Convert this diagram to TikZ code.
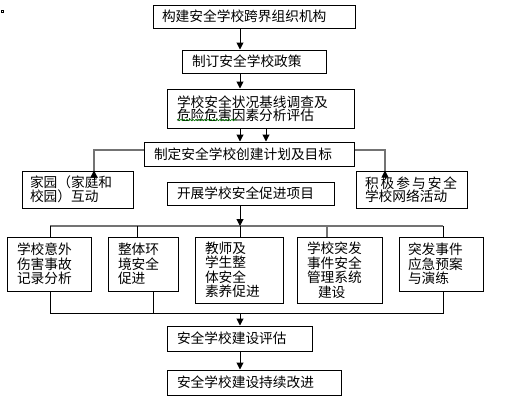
\documentclass[tikz,border=0pt]{standalone}
\usepackage{fontspec}
\setmainfont{Noto Sans CJK SC}
\usetikzlibrary{arrows.meta,decorations.pathmorphing}
\begin{document}
\begin{tikzpicture}[x=1pt,y=-1pt,
  box/.style={draw, line width=1pt, rectangle, align=left, inner ysep=0pt,
    font=\fontsize{13.7pt}{14.5pt}\selectfont},
  conn/.style={line width=1pt},
  arr/.style={line width=1pt,-{Triangle[width=7pt,length=7pt]}},
  grayconn/.style={line width=1.2pt, draw=black!55}]
\useasboundingbox[fill=white] (0,0) rectangle (506,410);
\draw[line width=0.8pt] (1.5,10.5) rectangle (3.5,12.5);
% top chain
\node[box, minimum height=23pt, inner xsep=9pt, text width=184pt] (n1) at (254,16.5) {构建安全学校跨界组织机构};
\node[box, minimum height=23pt, inner xsep=10pt, text width=124pt] (n2) at (254,61.5) {制订安全学校政策};
\node[box, minimum height=39pt, inner xsep=10pt, text width=167pt,
  font=\fontsize{13.7pt}{13pt}\selectfont] (n3) at (260.5,108.5) {学校安全状况基线调查及\\危险危害因素分析评估};
\node[box, minimum height=24pt, inner xsep=10pt, text width=190pt] (n4) at (249,154) {制定安全学校创建计划及目标};
\node[box, minimum height=37pt, inner xsep=8pt, text width=95pt,
  font=\fontsize{13.7pt}{12pt}\selectfont] (n5) at (77.5,189.5) {家园（家庭和\\校园）互动};
\node[box, minimum height=23pt, inner xsep=10pt, text width=147pt] (n6) at (250.5,193.5) {开展学校安全促进项目};
\node[box, minimum height=37pt, inner xsep=9pt, text width=93pt,
  font=\fontsize{13.7pt}{13pt}\selectfont] (n7) at (411.5,189.5) {积\kern2pt 极\kern2pt 参\kern2pt 与\kern2pt 安\kern2pt 全\\学校网络活动};
% project row
\node[box, minimum height=54pt, inner xsep=10pt, text width=64pt] (b1) at (49,264) {学校意外\\伤害事故\\记录分析};
\node[box, minimum height=54pt, inner xsep=10pt, text width=50pt] (b2) at (143,264) {整体环\\境安全\\促进};
\node[box, minimum height=66pt, inner xsep=10pt, text width=68pt] (b3) at (239,270) {教师及\\学生整\\体安全\\素养促进};
\node[box, minimum height=66pt, inner xsep=10pt, text width=65pt] (b4) at (339.5,270) {学校突发\\事件安全\\管理系统\\\hspace*{11pt}建设};
\node[box, minimum height=54pt, inner xsep=9pt, text width=66pt] (b5) at (441,264) {突发事件\\应急预案\\与演练};
% bottom chain
\node[box, minimum height=25pt, inner xsep=10pt, text width=125pt] (e1) at (239.5,338.5) {安全学校建设评估};
\node[box, minimum height=25pt, inner xsep=10pt, text width=154pt] (e2) at (254,382.5) {安全学校建设持续改进};
% spell-check underline
\draw[green!50!black, line width=0.6pt, decorate, decoration={snake, amplitude=0.7pt, segment length=3pt}] (177,120) -- (237,120);
% arrows in top chain
\draw[arr] ([xshift=-14pt]n1.south) -- ([xshift=-14pt]n2.north);
\draw[arr] ([xshift=-14pt]n2.south) -- ([xshift=-20.5pt]n3.north);
\draw[arr] ([xshift=-20.5pt]n3.south) -- ([xshift=-9pt]n4.north);
\draw[arr] ([xshift=5.5pt]n3.south) -- ([xshift=17pt]n4.north);
% side branches
\draw[grayconn] ([yshift=4pt]n4.west) -| ([xshift=16.5pt]n5.north);
\draw[arr] ([xshift=16.5pt,yshift=-8pt]n5.north) -- ([xshift=16.5pt]n5.north);
\draw[grayconn] ([yshift=4pt]n4.east) -| ([xshift=-26.5pt]n7.north);
\draw[arr] ([xshift=-26.5pt,yshift=-8pt]n7.north) -- ([xshift=-26.5pt]n7.north);
% top bus
\coordinate (tL) at (50,226);
\coordinate (t2) at (137,226);
\coordinate (tM) at (240,226);
\coordinate (t4) at (327,226);
\coordinate (tR) at (443,226);
\draw[grayconn] (tL) -- (tR);
\draw[arr] ([xshift=-10.5pt]n6.south) -- (tM);
\draw[conn] (tL) -- ([xshift=1pt]b1.north);
\draw[conn] (t2) -- ([xshift=-6pt]b2.north);
\draw[conn] (tM) -- ([xshift=1pt]b3.north);
\draw[grayconn] (t4) -- ([xshift=-12.5pt]b4.north);
\draw[conn] (tR) -- ([xshift=2pt]b5.north);
% bottom bus
\coordinate (uL) at (50,313);
\coordinate (uM) at (240,313);
\coordinate (uR) at (443,313);
\draw[conn] ([xshift=1pt]b1.south) -- (uL) -- (uR) -- ([xshift=2pt]b5.south);
\draw[conn] ([xshift=10pt]b2.south) -- ([xshift=10pt]b2.south |- uL);
\draw[arr] (uM) -- ([xshift=0.5pt]e1.north);
\draw[arr] ([xshift=0.5pt]e1.south) -- ([xshift=-14pt]e2.north);
\end{tikzpicture}
\end{document}
